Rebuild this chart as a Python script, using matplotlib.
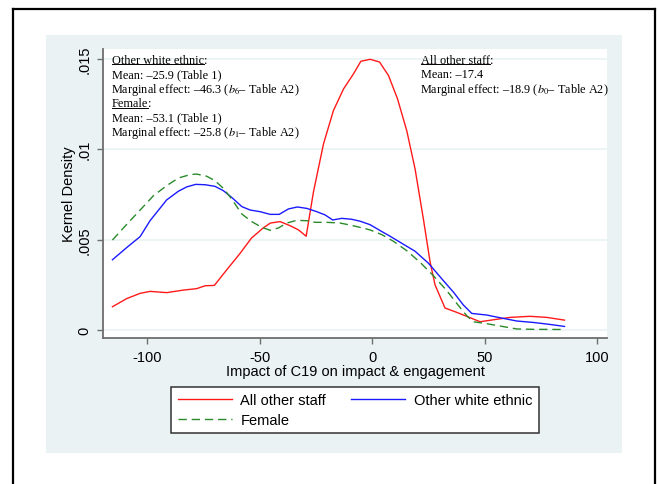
import matplotlib.pyplot as plt
from matplotlib.lines import Line2D
from matplotlib.patches import Rectangle

plt.rcParams['font.family'] = ['Liberation Sans', 'DejaVu Sans']
plt.rcParams['mathtext.fontset'] = 'stix'
plt.rcParams['axes.unicode_minus'] = False

# kernel density estimates
x_other = [-115.4, -108.9, -103.1, -98.7, -91.3, -83.9, -78.0, -74.2, -70.1, -66.1,
           -58.7, -53.6, -48.4, -45.2, -40.9, -36.4, -32.7, -29.3, -26.1, -21.6,
           -17.2, -12.7, -8.3, -5.0, -0.9, 3.3, 7.3, 11.3, 15.4, 19.1,
           22.8, 25.8, 28.0, 32.4, 37.6, 43.6, 48.0, 54.0, 61.3, 70.2, 77.6, 85.5]
y_other = [0.00129, 0.00175, 0.00203, 0.00214, 0.00207, 0.00221, 0.00229, 0.00245, 0.00247, 0.00310,
           0.00424, 0.00509, 0.00565, 0.00592, 0.00600, 0.00577, 0.00554, 0.00519, 0.00762, 0.01030,
           0.01214, 0.01334, 0.01417, 0.01487, 0.01498, 0.01483, 0.01408, 0.01279, 0.01103, 0.00891,
           0.00614, 0.00375, 0.00249, 0.00122, 0.00098, 0.00068, 0.00046, 0.00057, 0.00070, 0.00076,
           0.00070, 0.00055]

x_white = [-115.4, -108.9, -103.1, -98.7, -91.3, -86.1, -82.4, -78.4, -74.2, -69.8,
           -66.1, -62.4, -57.9, -54.2, -49.8, -45.3, -41.3, -37.2, -33.2, -29.0,
           -24.6, -20.9, -17.5, -13.5, -9.1, -5.3, -0.9, 3.6, 8.0, 13.2,
           19.1, 25.1, 31.7, 36.2, 40.6, 44.3, 51.0, 56.9, 64.3, 71.7, 79.1, 85.5]
y_white = [0.00389, 0.00458, 0.00517, 0.00605, 0.00720, 0.00768, 0.00792, 0.00806, 0.00804, 0.00795,
           0.00771, 0.00734, 0.00683, 0.00664, 0.00655, 0.00640, 0.00640, 0.00670, 0.00681, 0.00673,
           0.00655, 0.00637, 0.00609, 0.00618, 0.00613, 0.00602, 0.00583, 0.00550, 0.00519, 0.00480,
           0.00436, 0.00369, 0.00273, 0.00209, 0.00138, 0.00092, 0.00083, 0.00068, 0.00050, 0.00042,
           0.00031, 0.00020]

x_female = [-115.4, -108.9, -103.1, -97.2, -91.3, -86.1, -80.9, -78.0, -73.5, -69.8,
            -66.1, -62.4, -57.9, -53.5, -49.0, -45.3, -41.6, -37.9, -33.5, -29.0,
            -25.3, -20.1, -14.2, -9.8, -5.3, -0.9, 4.3, 9.5, 15.4, 21.3,
            27.2, 33.2, 38.4, 42.1, 45.0, 51.0, 56.9, 64.3, 71.7, 85.5]
y_female = [0.00498, 0.00587, 0.00664, 0.00743, 0.00799, 0.00841, 0.00860, 0.00863, 0.00851, 0.00826,
            0.00784, 0.00725, 0.00642, 0.00600, 0.00568, 0.00552, 0.00565, 0.00592, 0.00607, 0.00605,
            0.00596, 0.00596, 0.00592, 0.00581, 0.00568, 0.00554, 0.00528, 0.00491, 0.00439, 0.00375,
            0.00301, 0.00218, 0.00135, 0.00079, 0.00046, 0.00035, 0.00022, 0.00006, 0.00004, 0.00003]

xticks = [-100, -50, 0, 50, 100]
xtick_labels = ['-100', '-50', '0', '50', '100']
yticks = [0, 0.005, 0.01, 0.015]
ytick_labels = ['0', '.005', '.01', '.015']

notes_left = [("Other white ethnic", True),
              ("Mean: \u201325.9 (Table 1)", False),
              ("Marginal effect: \u201346.3 ($b_6$\u2013 Table A2)", False),
              ("Female", True),
              ("Mean: \u201353.1 (Table 1)", False),
              ("Marginal effect: \u201325.8 ($b_1$\u2013 Table A2)", False)]
notes_right = [("All other staff", True),
               ("Mean: \u201317.4", False),
               ("Marginal effect: \u201318.9 ($b_0$\u2013 Table A2)", False)]

W, H = 659, 485
fig = plt.figure(figsize=(W / 100, H / 100), dpi=100)


def fx(px):
    return px / W


def fy(py):
    return 1 - py / H


panel = '#eaf2f3'
fig.add_artist(Rectangle((fx(46), fy(454)), fx(576), 418 / H, transform=fig.transFigure,
                         facecolor=panel, edgecolor='none', zorder=0))
# black frame, open at the bottom
for xs, ys in [([13, 13], [10.3, 490]), ([13, 654.5], [10.3, 10.3]), ([654.5, 654.5], [10.3, 490])]:
    fig.add_artist(Line2D([fx(v) for v in xs], [fy(v) for v in ys], transform=fig.transFigure,
                          color='black', lw=1.6, solid_capstyle='projecting'))

ax = fig.add_axes([fx(103), fy(339), fx(504), 289 / H])
ax.set_facecolor('white')

red, = ax.plot(x_other, y_other, color='#ff1a1a', lw=1.0, label='All other staff')
blue, = ax.plot(x_white, y_white, color='#1a1aff', lw=1.0, label='Other white ethnic')
green, = ax.plot(x_female, y_female, color='#2a8a2a', lw=1.0, ls=(0, (6, 3.5)), label='Female')

ax.set_xlim(-119.6, 104.4)
ax.set_ylim(-0.00044, 0.01555)
ax.set_xticks(xticks, xtick_labels)
ax.set_yticks(yticks, ytick_labels)
ax.grid(axis='y', color=panel, lw=1.2)
ax.set_axisbelow(True)
for s in ['top', 'right']:
    ax.spines[s].set_visible(False)
for s in ['left', 'bottom']:
    ax.spines[s].set_color('#6e6e6e')
    ax.spines[s].set_linewidth(1.3)
ax.tick_params(axis='both', direction='out', length=4.5, width=1.0, color='#6e6e6e',
               labelsize=10.5, labelcolor='black')
ax.tick_params(axis='y', labelrotation=90, pad=4)
ax.tick_params(axis='x', pad=4)
for lab in ax.get_yticklabels():
    lab.set_va('center')
ax.set_xlabel('Impact of C19 on impact & engagement', fontsize=10.5, labelpad=0)
ax.set_ylabel('Kernel Density', fontsize=10.5, labelpad=0.5)

serif = ['Liberation Serif', 'DejaVu Serif']
heads = []
for col_x, notes in [(112, notes_left), (421, notes_right)]:
    for i, (txt, head) in enumerate(notes):
        base = 63.5 + 14.5 * i
        shift = -1 if '$' in txt else 0
        t = fig.text(fx(col_x + shift), fy(base), txt, family=serif, fontsize=8.8,
                     va='baseline', ha='left')
        if head:
            heads.append((t, base))

fig.canvas.draw()
r = fig.canvas.get_renderer()
for t, base in heads:
    bb = t.get_window_extent(r)
    fig.add_artist(Line2D([bb.x0 / W, bb.x1 / W], [fy(base + 1.6), fy(base + 1.6)],
                          transform=fig.transFigure, color='black', lw=0.7))
    fig.text(bb.x1 / W, fy(base), ':', family=serif, fontsize=8.8, va='baseline', ha='left')

leg = fig.legend(handles=[red, green, blue], loc='center', ncol=2,
                 bbox_to_anchor=(fx(355), fy(411)), fontsize=10.5, frameon=True,
                 fancybox=False, edgecolor='#333333', framealpha=1, handlelength=3.7,
                 handletextpad=0.6, columnspacing=1.7, labelspacing=0.4, borderpad=0.45,
                 borderaxespad=0)
leg.get_frame().set_linewidth(1.1)

fig.savefig('out.png', dpi=100)
